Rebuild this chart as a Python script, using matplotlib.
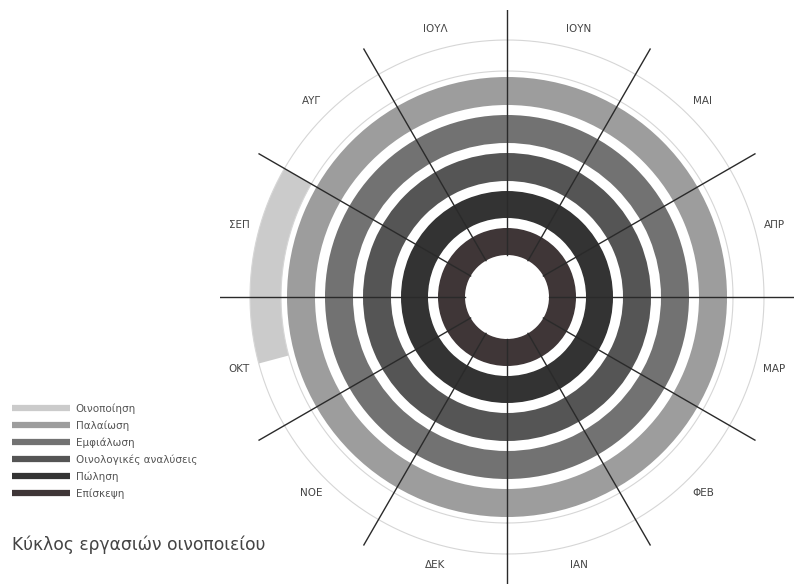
import matplotlib
matplotlib.use("Agg")

import numpy as np
import matplotlib.pyplot as plt
from matplotlib.lines import Line2D

plt.rcParams['font.family'] = ['DejaVu Sans']

# months, counter-clockwise starting at the bottom
months = ["ΙΑΝ", "ΦΕΒ", "ΜΑΡ", "ΑΠΡ", "ΜΑΙ", "ΙΟΥΝ",
          "ΙΟΥΛ", "ΑΥΓ", "ΣΕΠ", "ΟΚΤ", "ΝΟΕ", "ΔΕΚ"]

# activities, outer ring first; start / end in months from 1 Jan
activities = ["Οινοποίηση", "Παλαίωση", "Εμφιάλωση",
              "Οινολογικές αναλύσεις", "Πώληση", "Επίσκεψη"]
start_month = [8.0, 0, 0, 0, 0, 0]
end_month = [9.5, 12, 12, 12, 12, 12]
colors = ["#cbcbcb", "#9d9d9d", "#727272", "#555555", "#333333", "#3f3637"]

# ring radii in pixels (inner, outer)
ring_inner = [226, 192, 154, 116, 79, 42]
ring_outer = [257, 220, 182, 144, 106, 69]

W, H = 802, 585
cx, cy = 507, 297
R = 287

fig = plt.figure(figsize=(W / 100, H / 100), dpi=100)
ax = fig.add_axes([(cx - R) / W, (H - cy - R) / H, 2 * R / W, 2 * R / H],
                  projection="polar")
ax.set_theta_zero_location("S")
ax.set_theta_direction(1)
ax.set_ylim(0, R)
ax.axis("off")

step = 2 * np.pi / 12
for i, name in enumerate(activities):
    t0 = start_month[i] * step
    t1 = end_month[i] * step
    ax.bar(t0, ring_outer[i] - ring_inner[i], width=t1 - t0,
           bottom=ring_inner[i], align="edge", color=colors[i],
           edgecolor="none", linewidth=0)

# thin outline of the outer track
th = np.linspace(0, 2 * np.pi, 400)
for r in (ring_inner[0], ring_outer[0]):
    ax.plot(th, np.full_like(th, r), color="#d6d6d6", lw=0.8)

# radial month dividers
for k in range(12):
    ax.plot([k * step, k * step], [ring_inner[-1], R], color="#2a2a2a", lw=1.0)

# month labels
for k, m in enumerate(months):
    ax.text((k + 0.5) * step, 277, m, ha="center", va="center",
            fontsize=7.5, color="#444444")

handles = [Line2D([0], [0], color=c, lw=4.5, solid_capstyle="butt") for c in colors]
leg = fig.legend(handles, activities, loc="upper left",
                 bbox_to_anchor=(5 / W, 1 - 396 / H), frameon=False,
                 fontsize=7.5, handlelength=5.5, handletextpad=0.6,
                 labelspacing=0.62, borderpad=0.2)
for t in leg.get_texts():
    t.set_color("#555555")

fig.text(12 / W, 1 - 545 / H, "Κύκλος εργασιών οινοποιείου",
         ha="left", va="center", fontsize=12.3, color="#444444")

fig.savefig("out.png", dpi=100, facecolor="white")
